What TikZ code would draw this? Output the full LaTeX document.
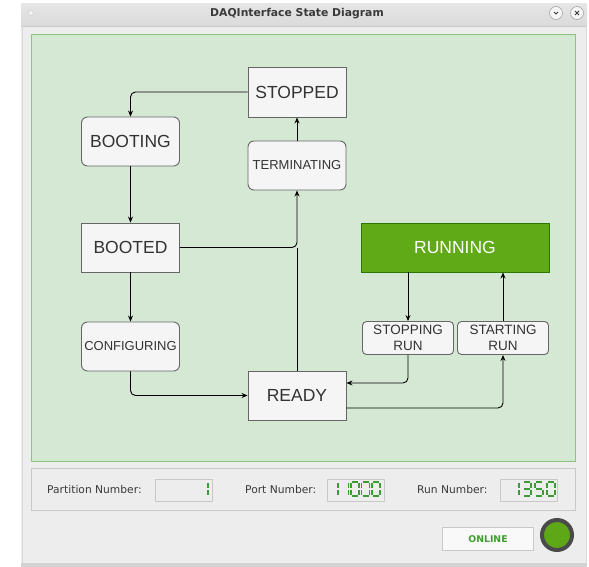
\documentclass[tikz,border=0pt]{standalone}
\usepackage{fontspec}
\setmainfont{Liberation Sans}
\newfontfamily\uifont{DejaVu Sans}
\usetikzlibrary{arrows.meta,calc}
\definecolor{stfill}{HTML}{F5F5F5}
\definecolor{ststroke}{HTML}{666666}
\definecolor{sttext}{HTML}{333333}
\definecolor{panelfill}{HTML}{D5E8D4}
\definecolor{panelline}{HTML}{8DC47D}
\definecolor{runfill}{HTML}{60A917}
\definecolor{runline}{HTML}{2D7600}
\definecolor{winbg}{HTML}{EDEDED}
\definecolor{titlebg}{HTML}{DADADA}
\definecolor{frameline}{HTML}{C8C8C8}
\definecolor{lcdgreen}{HTML}{3C9B35}
\definecolor{uitext}{HTML}{3A3A3A}
\definecolor{ledring}{HTML}{4A4A4A}
\definecolor{ledfill}{HTML}{5EA818}
\definecolor{onlinetext}{HTML}{3D9E2E}
\newcommand\lcdA[2]{\draw[lcdseg] (#1+1,#2) -- (#1+7,#2);}
\newcommand\lcdB[2]{\draw[lcdseg] (#1+8,#2+1) -- (#1+8,#2+6);}
\newcommand\lcdC[2]{\draw[lcdseg] (#1+8,#2+8) -- (#1+8,#2+13);}
\newcommand\lcdD[2]{\draw[lcdseg] (#1+1,#2+14) -- (#1+7,#2+14);}
\newcommand\lcdE[2]{\draw[lcdseg] (#1,#2+8) -- (#1,#2+13);}
\newcommand\lcdF[2]{\draw[lcdseg] (#1,#2+1) -- (#1,#2+6);}
\newcommand\lcdG[2]{\draw[lcdseg] (#1+1,#2+7) -- (#1+7,#2+7);}
\newcommand\lcddigit[3]{\foreach \s in {#3}{\csname lcd\s\endcsname{#1}{#2}}}
\tikzset{
  statebox/.style={draw=ststroke, fill=stfill, text=sttext, line width=0.9pt, inner sep=0pt, align=center},
  roundbox/.style={statebox, rounded corners=6pt},
  bigfont/.style={font=\fontsize{17.5}{20}\selectfont},
  midfont/.style={font=\fontsize{13}{16}\selectfont},
  twofont/.style={font=\fontsize{13.5}{16}\selectfont},
  edge/.style={draw=black, line width=0.9pt, rounded corners=5pt, -{Stealth[length=6pt,width=5pt]}},
  plainedge/.style={draw=black, line width=0.9pt},
  lcdseg/.style={draw=lcdgreen, line width=1.1pt},
  lcdbox/.style={draw=frameline, fill=winbg, line width=0.8pt, minimum width=57pt, minimum height=22pt, inner sep=0pt},
  uilabel/.style={font=\uifont\fontsize{10.7}{12}\selectfont, text=uitext, anchor=west, inner sep=0pt}
}
\begin{document}
\begin{tikzpicture}[x=1pt,y=-1pt]
\useasboundingbox (0,0) rectangle (589,567);
\fill[white] (0,0) rectangle (589,567);
% window
\fill[winbg] (21,4) rectangle (587,567);
\shade[top color=titlebg!70!white, bottom color=titlebg] (21,4) rectangle (587,26);
\draw[frameline, line width=0.6pt] (21,26) -- (587,26);
\fill[frameline!80!white] (21,563) rectangle (587,567);
\draw[frameline!70!white, line width=1pt] (22,26) -- (22,563);
\draw[frameline!70!white, line width=1pt] (586,26) -- (586,563);
\node[font=\uifont\bfseries\fontsize{10.8}{12}\selectfont, text=uitext] (title) at (297,14) {DAQInterface State Diagram};
\node[circle, fill=white!90!gray, draw=frameline, minimum size=5pt, inner sep=0pt] (dot) at (31,13) {};
\node[circle, fill=white!92!gray, draw=gray!70, line width=0.6pt, minimum size=13pt, inner sep=0pt] (minbtn) at (556,13) {};
\node[circle, fill=white!92!gray, draw=gray!70, line width=0.6pt, minimum size=13pt, inner sep=0pt] (closebtn) at (577,13) {};
\draw[uitext, line width=0.8pt] ($(minbtn)+(-2,-1)$) -- ($(minbtn)+(0,1)$) -- ($(minbtn)+(2,-1)$);
\draw[uitext, line width=0.8pt] ($(closebtn)+(-2,-2)$) -- ($(closebtn)+(2,2)$) ($(closebtn)+(-2,2)$) -- ($(closebtn)+(2,-2)$);
% green panel
\draw[fill=panelfill, draw=panelline, line width=1.2pt] (31.5,34.5) rectangle (575.5,461.5);
% states
\node[statebox, bigfont, minimum width=98pt, minimum height=50pt] (stopped) at (297,92) {STOPPED};
\node[roundbox, bigfont, minimum width=98pt, minimum height=49pt] (booting) at (130.5,141.5) {BOOTING};
\node[roundbox, midfont, minimum width=98pt, minimum height=49pt] (terminating) at (297,165.5) {TERMINATING};
\node[statebox, bigfont, minimum width=98pt, minimum height=49pt] (booted) at (130.5,247.5) {BOOTED};
\node[statebox, bigfont, fill=runfill, draw=runline, text=white, minimum width=188pt, minimum height=49pt] (running) at (455,247.5) {RUNNING};
\node[roundbox, midfont, minimum width=98pt, minimum height=49pt] (configuring) at (130.5,346.5) {CONFIGURING};
\node[roundbox, twofont, rounded corners=4pt, minimum width=91pt, minimum height=33pt] (stopping) at (408,338) {STOPPING\\RUN};
\node[roundbox, twofont, rounded corners=4pt, minimum width=91pt, minimum height=33pt] (starting) at (503,338) {STARTING\\RUN};
\node[statebox, bigfont, minimum width=98pt, minimum height=49pt] (ready) at (297,395.5) {READY};
\coordinate (rdin) at ($(ready.east)+(0,-12.5)$);
\coordinate (rdout) at ($(ready.east)+(0,12.5)$);
\coordinate (merge) at (ready.north |- booted.east);
% edges
\draw[edge] (stopped.west) -| (booting.north);
\draw[edge] (booting.south) -- (booted.north);
\draw[edge] (booted.east) -| (terminating.south);
\draw[edge] (terminating.north) -- (stopped.south);
\draw[edge] (booted.south) -- (configuring.north);
\draw[edge] (configuring.south) |- (ready.west);
\draw[plainedge] (ready.north) -- (merge);
\draw[edge] (stopping.north |- running.south) -- (stopping.north);
\draw[edge] (stopping.south) |- (rdin);
\draw[edge] (rdout) -| (starting.south);
\draw[edge] (starting.north) -- (starting.north |- running.south);
% lower panel
\draw[frameline, line width=0.8pt] (31.5,468.5) rectangle (575.5,510.5);
\node[uilabel] (plabel) at (47,490) {Partition Number:};
\node[uilabel] (portlabel) at (245,490) {Port Number:};
\node[uilabel] (runlabel) at (417,490) {Run Number:};
\node[lcdbox] (pbox) at (183.5,490) {};
\node[lcdbox] (portbox) at (355.5,490) {};
\node[lcdbox] (runbox) at (528.5,490) {};
\lcddigit{200}{482}{B,C}
\lcddigit{330}{482}{B,C}
\lcddigit{340.5}{482}{B,C}
\lcddigit{351}{482}{A,B,C,D,E,F}
\lcddigit{361.5}{482}{A,B,C,D,E,F}
\lcddigit{372}{482}{A,B,C,D,E,F}
\lcddigit{511}{482}{B,C}
\lcddigit{523}{482}{A,B,C,D,G}
\lcddigit{535}{482}{A,F,G,C,D}
\lcddigit{547}{482}{A,B,C,D,E,F}
% online button and led
\node[draw=frameline, fill=white!95!gray, line width=0.8pt, minimum width=91pt, minimum height=23pt, inner sep=0pt, text=onlinetext, font=\uifont\bfseries\fontsize{9.3}{11}\selectfont] (online) at (488,539) {ONLINE};
\node[circle, fill=ledfill, draw=ledring, line width=4pt, minimum size=30pt, inner sep=0pt] (led) at (557,535) {};
\end{tikzpicture}
\end{document}
